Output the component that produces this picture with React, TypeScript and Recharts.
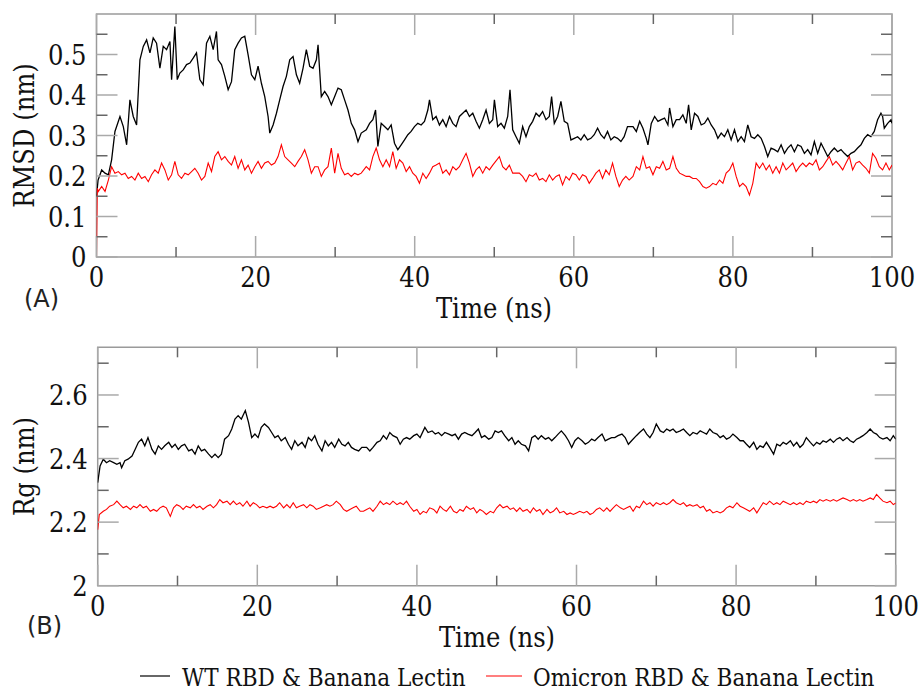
import React from 'react';
import { LineChart, Line, XAxis, YAxis, ReferenceArea } from 'recharts';

type Pt = [number, number];

// tick positions
const timeTicks = [0, 10, 20, 30, 40, 50, 60, 70, 80, 90, 100];
const rmsdTicks = [0, 0.05, 0.1, 0.15, 0.2, 0.25, 0.3, 0.35, 0.4, 0.45, 0.5, 0.55];
const rgTicks = [2, 2.1, 2.2, 2.3, 2.4, 2.5, 2.6, 2.7];

const seriesNames = ['WT RBD & Banana Lectin', 'Omicron RBD & Banana Lectin'];
const seriesColors = ['#000000', '#ff0000'];

// (A) RMSD, nm vs time, ns
const rmsdWt: Pt[] = [
  [0,0.15],[0.2,0.19],[0.65,0.215],[1.07,0.207],[1.49,0.203],[1.9,0.24],[2.32,0.31],[2.95,0.347],[3.37,0.322],[3.79,0.277],
  [4.2,0.388],[4.62,0.347],[5.04,0.326],[5.46,0.487],[5.88,0.52],[6.3,0.536],[6.72,0.504],[7.13,0.541],[7.55,0.528],[7.97,0.466],
  [8.39,0.52],[8.81,0.512],[9.23,0.532],[9.44,0.438],[9.85,0.569],[10.15,0.438],[10.48,0.454],[10.9,0.462],[11.32,0.475],[11.74,0.479],
  [12.15,0.491],[12.57,0.504],[12.99,0.438],[13.41,0.425],[13.83,0.528],[14.25,0.545],[14.67,0.512],[15.08,0.557],[15.29,0.487],[15.71,0.475],
  [16.13,0.446],[16.55,0.413],[16.97,0.433],[17.38,0.512],[17.8,0.528],[18.22,0.541],[18.64,0.545],[19.06,0.499],[19.48,0.45],[19.9,0.438],
  [20.31,0.471],[20.73,0.429],[21.15,0.396],[21.57,0.347],[21.78,0.306],[22.2,0.326],[22.62,0.355],[23.03,0.388],[23.45,0.421],[23.87,0.446],
  [24.29,0.487],[24.71,0.495],[25.13,0.45],[25.54,0.429],[25.96,0.466],[26.38,0.512],[26.8,0.471],[27.22,0.466],[27.64,0.487],[27.85,0.524],
  [28.26,0.396],[28.68,0.409],[29.1,0.396],[29.52,0.376],[29.94,0.396],[30.36,0.417],[30.77,0.413],[31.19,0.388],[31.61,0.363],[32.03,0.33],
  [32.45,0.314],[32.87,0.285],[33.28,0.306],[33.91,0.314],[34.33,0.33],[34.74,0.339],[35.08,0.363],[35.37,0.273],[35.79,0.33],[36.21,0.322],
  [36.63,0.314],[37.04,0.326],[37.46,0.281],[37.88,0.265],[38.3,0.277],[38.72,0.289],[39.14,0.302],[39.55,0.31],[39.97,0.322],[40.39,0.33],
  [40.81,0.326],[41.23,0.335],[41.65,0.363],[41.86,0.388],[42.27,0.339],[42.69,0.347],[43.11,0.326],[43.53,0.339],[43.95,0.322],[44.37,0.347],
  [44.79,0.33],[45.2,0.322],[45.62,0.347],[46.04,0.355],[46.46,0.363],[46.88,0.347],[47.3,0.355],[47.71,0.335],[48.13,0.318],[48.55,0.339],
  [48.97,0.363],[49.39,0.33],[49.81,0.339],[50.02,0.388],[50.43,0.322],[50.85,0.33],[51.27,0.318],[51.69,0.347],[51.98,0.413],[52.32,0.314],
  [52.74,0.297],[53.15,0.281],[53.57,0.322],[53.99,0.297],[54.41,0.322],[54.83,0.335],[55.25,0.355],[55.66,0.347],[56.08,0.359],[56.5,0.339],
  [56.92,0.347],[57.21,0.396],[57.55,0.33],[57.97,0.347],[58.38,0.384],[58.8,0.335],[59.22,0.33],[59.64,0.289],[60.06,0.293],[60.48,0.297],
  [60.89,0.289],[61.31,0.302],[61.73,0.289],[62.15,0.293],[62.57,0.302],[62.99,0.318],[63.4,0.302],[63.82,0.293],[64.24,0.31],[64.66,0.289],
  [65.08,0.297],[65.5,0.293],[65.92,0.285],[66.33,0.297],[66.75,0.322],[67.44,0.322],[67.86,0.31],[68.28,0.335],[68.69,0.318],[69.11,0.293],
  [69.32,0.277],[69.74,0.33],[70.16,0.347],[70.58,0.335],[70.99,0.339],[71.41,0.343],[71.83,0.326],[72.04,0.368],[72.46,0.322],[72.88,0.339],
  [73.3,0.339],[73.71,0.351],[74.13,0.33],[74.43,0.376],[74.76,0.314],[75.18,0.355],[75.6,0.347],[76.02,0.326],[76.43,0.33],[76.85,0.343],
  [77.27,0.326],[77.69,0.314],[78.11,0.293],[78.53,0.306],[78.94,0.297],[79.36,0.314],[79.78,0.289],[80.2,0.314],[80.62,0.285],[81.04,0.297],
  [81.45,0.285],[81.87,0.326],[82.29,0.297],[82.71,0.293],[83.13,0.302],[83.55,0.293],[83.97,0.273],[84.38,0.248],[84.8,0.269],[85.22,0.265],
  [85.64,0.26],[86.06,0.277],[86.48,0.256],[86.89,0.269],[87.31,0.277],[87.73,0.26],[88.15,0.277],[88.57,0.273],[88.99,0.256],[89.4,0.265],
  [89.82,0.252],[90.24,0.285],[90.66,0.256],[91.08,0.281],[91.5,0.265],[91.92,0.248],[92.33,0.26],[92.75,0.269],[93.17,0.26],[93.59,0.265],
  [94.01,0.256],[94.43,0.248],[94.84,0.256],[95.26,0.26],[95.68,0.269],[96.1,0.277],[96.52,0.293],[96.94,0.302],[97.35,0.297],[97.77,0.31],
  [98.19,0.339],[98.61,0.355],[98.82,0.347],[99.03,0.318],[99.45,0.33],[99.87,0.339],[100,0.33],
];

const rmsdOmicron: Pt[] = [
  [0,0],[0.1,0.17],[0.23,0.162],[0.65,0.174],[1.07,0.162],[1.49,0.19],[1.9,0.223],[2.32,0.207],[2.74,0.211],[3.16,0.203],
  [3.58,0.207],[3.99,0.194],[4.41,0.199],[4.83,0.19],[5.25,0.207],[5.67,0.194],[6.09,0.199],[6.51,0.186],[6.92,0.203],[7.34,0.215],
  [7.76,0.207],[8.18,0.232],[8.6,0.215],[9.02,0.19],[9.44,0.203],[9.85,0.236],[10.27,0.203],[10.69,0.194],[11.11,0.207],[11.53,0.203],
  [11.95,0.211],[12.36,0.219],[12.78,0.207],[13.2,0.19],[13.62,0.199],[14.04,0.232],[14.46,0.211],[14.87,0.248],[15.29,0.26],[15.71,0.24],
  [16.13,0.248],[16.55,0.236],[16.97,0.227],[17.38,0.248],[17.8,0.219],[18.22,0.24],[18.64,0.215],[19.06,0.227],[19.48,0.207],[19.9,0.223],
  [20.31,0.236],[20.73,0.219],[21.15,0.232],[21.57,0.236],[21.99,0.227],[22.41,0.232],[22.82,0.248],[23.24,0.277],[23.66,0.248],[24.08,0.24],
  [24.5,0.232],[24.92,0.223],[25.33,0.236],[25.75,0.248],[26.17,0.265],[26.59,0.24],[27.01,0.207],[27.43,0.223],[27.85,0.223],[28.26,0.199],
  [28.68,0.215],[29.1,0.223],[29.52,0.269],[29.94,0.207],[30.36,0.256],[30.77,0.219],[31.19,0.203],[31.61,0.207],[32.03,0.199],[32.45,0.207],
  [32.87,0.203],[33.28,0.207],[33.91,0.223],[34.33,0.215],[34.74,0.248],[35.16,0.269],[35.58,0.24],[36,0.223],[36.42,0.24],[36.84,0.223],
  [37.25,0.26],[37.67,0.219],[38.09,0.24],[38.51,0.232],[38.93,0.211],[39.35,0.223],[39.76,0.207],[40.18,0.199],[40.6,0.182],[41.02,0.207],
  [41.44,0.194],[41.86,0.207],[42.27,0.223],[42.69,0.227],[43.11,0.232],[43.53,0.207],[43.95,0.215],[44.37,0.203],[44.79,0.223],[45.2,0.215],
  [45.62,0.223],[46.04,0.24],[46.46,0.256],[46.88,0.232],[47.3,0.199],[47.71,0.215],[48.13,0.223],[48.55,0.207],[48.97,0.223],[49.39,0.215],
  [49.81,0.227],[50.64,0.248],[51.06,0.223],[51.48,0.215],[51.9,0.227],[52.32,0.207],[52.74,0.207],[53.15,0.207],[53.57,0.199],[53.99,0.186],
  [54.41,0.203],[54.83,0.199],[55.25,0.207],[55.66,0.19],[56.08,0.194],[56.5,0.186],[56.92,0.203],[57.34,0.19],[57.76,0.199],[58.17,0.203],
  [58.59,0.178],[59.01,0.199],[59.43,0.19],[59.85,0.207],[60.27,0.203],[60.69,0.19],[61.1,0.203],[61.52,0.199],[61.94,0.182],[62.36,0.194],
  [62.78,0.207],[63.2,0.215],[63.61,0.194],[64.03,0.215],[64.45,0.203],[64.87,0.232],[65.29,0.199],[65.71,0.174],[66.13,0.19],[66.54,0.199],
  [66.96,0.19],[67.44,0.199],[67.86,0.223],[68.28,0.215],[68.69,0.248],[69.11,0.219],[69.53,0.223],[69.95,0.203],[70.37,0.223],[70.79,0.219],
  [71.2,0.236],[71.62,0.215],[72.04,0.219],[72.46,0.248],[72.88,0.219],[73.3,0.207],[73.71,0.203],[74.13,0.199],[74.55,0.199],[74.97,0.194],
  [75.39,0.194],[75.81,0.186],[76.23,0.174],[76.64,0.17],[77.06,0.174],[77.48,0.182],[77.9,0.178],[78.32,0.19],[78.74,0.182],[79.15,0.207],
  [79.57,0.215],[79.99,0.232],[80.41,0.199],[80.83,0.174],[81.25,0.182],[81.66,0.174],[82.08,0.153],[82.5,0.182],[82.92,0.232],[83.34,0.219],
  [83.76,0.232],[84.18,0.215],[84.59,0.227],[85.01,0.207],[85.43,0.223],[85.85,0.207],[86.27,0.232],[86.69,0.215],[87.1,0.223],[87.52,0.232],
  [87.94,0.211],[88.36,0.223],[88.78,0.232],[89.2,0.223],[89.61,0.232],[90.03,0.227],[90.45,0.24],[90.87,0.215],[91.29,0.223],[91.71,0.236],
  [92.12,0.248],[92.54,0.227],[92.96,0.236],[93.38,0.227],[93.8,0.215],[94.22,0.232],[94.64,0.248],[95.05,0.215],[95.47,0.232],[95.89,0.236],
  [96.31,0.227],[96.73,0.219],[97.15,0.207],[97.56,0.256],[97.98,0.244],[98.4,0.223],[98.82,0.215],[99.24,0.232],[99.66,0.215],[100,0.227],
];

// (B) Rg, nm vs time, ns
const rgWt: Pt[] = [
  [0,2.324],[0.3,2.377],[0.7,2.398],[1.1,2.387],[1.5,2.393],[2,2.387],[2.4,2.382],[2.8,2.387],[3,2.371],[3.4,2.393],
  [3.8,2.398],[4.3,2.408],[4.7,2.429],[5.1,2.451],[5.5,2.461],[5.9,2.44],[6.3,2.466],[6.8,2.429],[7.2,2.414],[7.6,2.44],
  [8,2.429],[8.4,2.44],[8.9,2.451],[9.3,2.435],[9.7,2.445],[10.1,2.429],[10.5,2.44],[10.9,2.445],[11.4,2.424],[11.8,2.429],
  [12.2,2.414],[12.6,2.44],[13,2.424],[13.4,2.429],[13.9,2.414],[14.3,2.403],[14.7,2.414],[15.1,2.403],[15.5,2.414],[15.9,2.461],
  [16.4,2.472],[16.8,2.493],[17.2,2.524],[17.6,2.535],[18,2.524],[18.5,2.551],[18.9,2.514],[19.3,2.466],[19.7,2.477],[20.1,2.466],
  [20.5,2.498],[20.9,2.509],[21.4,2.498],[21.8,2.482],[22.2,2.466],[22.6,2.472],[23,2.456],[23.5,2.466],[23.9,2.445],[24.3,2.429],
  [24.7,2.456],[25.1,2.44],[25.6,2.451],[26,2.435],[26.4,2.466],[26.8,2.456],[27.2,2.472],[27.6,2.445],[28.1,2.424],[28.5,2.456],
  [28.9,2.44],[29.3,2.451],[29.7,2.435],[30.2,2.461],[30.6,2.445],[31,2.44],[31.4,2.451],[31.8,2.435],[32.2,2.429],[32.7,2.424],
  [33.1,2.435],[33.7,2.435],[34.1,2.424],[34.5,2.435],[35,2.451],[35.4,2.456],[35.8,2.472],[36.2,2.461],[36.6,2.482],[37,2.472],
  [37.5,2.466],[37.9,2.445],[38.3,2.461],[38.7,2.466],[39.1,2.461],[39.6,2.472],[40,2.477],[40.4,2.466],[41,2.498],[41.4,2.482],
  [41.9,2.487],[42.3,2.477],[42.7,2.482],[43.1,2.472],[43.5,2.482],[44,2.477],[44.4,2.472],[44.8,2.477],[45.2,2.461],[45.6,2.477],
  [46,2.482],[46.4,2.477],[46.9,2.472],[47.3,2.482],[47.7,2.493],[48.1,2.466],[48.5,2.472],[49,2.461],[49.4,2.466],[49.8,2.487],
  [50.2,2.482],[50.6,2.487],[51,2.472],[51.5,2.456],[51.9,2.466],[52.3,2.445],[52.7,2.456],[53.1,2.445],[53.6,2.44],[54,2.424],
  [54.4,2.466],[54.8,2.472],[55.2,2.461],[55.6,2.472],[56.1,2.461],[56.5,2.466],[56.9,2.456],[57.3,2.466],[57.7,2.477],[58.1,2.487],
  [58.6,2.472],[59,2.456],[59.4,2.435],[59.8,2.456],[60.2,2.466],[60.7,2.456],[61.1,2.445],[61.5,2.451],[61.9,2.461],[62.3,2.456],
  [62.7,2.466],[63.2,2.477],[63.6,2.456],[64,2.461],[64.4,2.466],[64.8,2.466],[65.2,2.472],[65.7,2.477],[66.1,2.466],[66.5,2.445],
  [66.9,2.456],[67.5,2.472],[67.9,2.482],[68.4,2.493],[68.8,2.477],[69.2,2.466],[69.6,2.482],[70,2.509],[70.5,2.487],[70.9,2.482],
  [71.3,2.493],[71.7,2.487],[72.1,2.493],[72.5,2.482],[73,2.487],[73.4,2.493],[73.8,2.482],[74.2,2.472],[74.6,2.482],[75.1,2.477],
  [75.5,2.487],[75.9,2.482],[76.3,2.477],[76.7,2.493],[77.1,2.482],[77.6,2.477],[78,2.466],[78.4,2.472],[78.8,2.461],[79.2,2.466],
  [79.6,2.477],[80.1,2.466],[80.5,2.456],[80.9,2.456],[81.3,2.445],[81.7,2.435],[82.2,2.451],[82.6,2.429],[83,2.44],[83.4,2.435],
  [83.8,2.451],[84.2,2.435],[84.7,2.414],[85.1,2.445],[85.5,2.44],[85.9,2.451],[86.3,2.445],[86.8,2.456],[87.2,2.44],[87.6,2.451],
  [88,2.435],[88.4,2.445],[88.8,2.466],[89.3,2.451],[89.7,2.44],[90.1,2.451],[90.5,2.445],[90.9,2.456],[91.3,2.451],[91.8,2.461],
  [92.2,2.451],[92.6,2.461],[93,2.466],[93.4,2.456],[93.9,2.466],[94.3,2.456],[94.7,2.451],[95.1,2.461],[95.5,2.466],[95.9,2.472],
  [96.4,2.482],[96.8,2.493],[97.2,2.482],[97.6,2.477],[98,2.466],[98.4,2.461],[98.9,2.466],[99.3,2.456],[99.7,2.472],[100,2.461],
];

const rgOmicron: Pt[] = [
  [0,2.176],[0.2,2.224],[0.7,2.234],[1.1,2.24],[1.5,2.25],[2,2.255],[2.4,2.266],[2.8,2.255],[3.2,2.245],[3.6,2.25],
  [4.1,2.24],[4.5,2.25],[4.9,2.245],[5.3,2.255],[5.7,2.245],[6.1,2.25],[6.6,2.234],[7,2.24],[7.4,2.234],[7.8,2.245],
  [8.2,2.25],[8.6,2.245],[9.1,2.218],[9.5,2.245],[9.9,2.255],[10.3,2.25],[10.7,2.24],[11.1,2.25],[11.6,2.245],[12,2.255],
  [12.4,2.245],[12.8,2.25],[13.2,2.24],[13.7,2.25],[14.1,2.255],[14.5,2.245],[14.9,2.255],[15.3,2.271],[15.7,2.261],[16.2,2.266],
  [16.6,2.255],[17,2.266],[17.4,2.255],[17.8,2.261],[18.2,2.25],[18.7,2.266],[19.1,2.25],[19.5,2.261],[19.9,2.255],[20.3,2.245],
  [20.7,2.25],[21.2,2.245],[21.6,2.25],[22,2.245],[22.4,2.25],[22.8,2.261],[23.3,2.245],[23.7,2.255],[24.1,2.245],[24.5,2.261],
  [24.9,2.245],[25.3,2.25],[25.8,2.255],[26.2,2.245],[26.6,2.255],[27,2.25],[27.4,2.24],[27.9,2.245],[28.3,2.25],[28.7,2.255],
  [29.1,2.25],[29.5,2.255],[29.9,2.266],[30.4,2.255],[30.8,2.24],[31.2,2.234],[31.6,2.24],[32,2.245],[32.4,2.25],[32.9,2.234],
  [33.3,2.234],[33.7,2.24],[34.1,2.245],[34.5,2.234],[35,2.25],[35.4,2.266],[35.8,2.255],[36.2,2.261],[36.6,2.255],[37,2.266],
  [37.5,2.255],[37.9,2.261],[38.3,2.255],[38.7,2.266],[39.1,2.25],[39.6,2.234],[40,2.24],[40.4,2.224],[40.8,2.234],[41.2,2.229],
  [41.6,2.245],[42.1,2.24],[42.5,2.229],[42.9,2.25],[43.3,2.24],[43.7,2.234],[44.2,2.25],[44.6,2.234],[45,2.229],[45.4,2.24],
  [45.8,2.234],[46.2,2.25],[46.7,2.24],[47.1,2.245],[47.5,2.229],[47.9,2.24],[48.3,2.234],[48.7,2.224],[49.2,2.234],[49.6,2.229],
  [50,2.245],[50.4,2.255],[50.8,2.245],[51.3,2.25],[51.7,2.24],[52.1,2.245],[52.5,2.234],[52.9,2.245],[53.3,2.234],[53.8,2.24],
  [54.2,2.229],[54.6,2.245],[55,2.234],[55.4,2.24],[55.8,2.224],[56.3,2.24],[56.7,2.229],[57.1,2.234],[57.5,2.245],[57.9,2.229],
  [58.4,2.234],[58.8,2.224],[59.2,2.229],[59.6,2.224],[60,2.229],[60.4,2.234],[60.9,2.229],[61.3,2.234],[61.7,2.224],[62.1,2.229],
  [62.5,2.24],[62.9,2.245],[63.4,2.234],[63.8,2.245],[64.2,2.234],[64.6,2.245],[65,2.255],[65.5,2.245],[65.9,2.24],[66.3,2.245],
  [66.7,2.25],[67.1,2.234],[67.5,2.25],[67.9,2.245],[68.4,2.266],[68.8,2.255],[69.2,2.261],[69.6,2.25],[70,2.261],[70.5,2.255],
  [70.9,2.261],[71.3,2.255],[71.7,2.261],[72.1,2.271],[72.5,2.261],[73,2.255],[73.4,2.261],[73.8,2.25],[74.2,2.255],[74.6,2.25],
  [75.1,2.255],[75.5,2.245],[75.9,2.25],[76.3,2.234],[76.7,2.24],[77.1,2.229],[77.6,2.234],[78,2.229],[78.4,2.234],[78.8,2.245],
  [79.2,2.25],[79.6,2.245],[80.1,2.261],[80.5,2.25],[80.9,2.245],[81.3,2.24],[81.7,2.234],[82.2,2.245],[82.6,2.229],[83,2.245],
  [83.4,2.261],[83.8,2.255],[84.2,2.266],[84.7,2.255],[85.1,2.261],[85.5,2.255],[85.9,2.266],[86.3,2.261],[86.8,2.255],[87.2,2.261],
  [87.6,2.255],[88,2.261],[88.4,2.255],[88.8,2.266],[89.3,2.261],[89.7,2.266],[90.1,2.261],[90.5,2.271],[90.9,2.266],[91.3,2.271],
  [91.8,2.266],[92.2,2.271],[92.6,2.266],[93,2.271],[93.4,2.276],[93.9,2.271],[94.3,2.266],[94.7,2.271],[95.1,2.266],[95.5,2.271],
  [95.9,2.266],[96.4,2.271],[96.8,2.276],[97.2,2.271],[97.6,2.287],[98,2.276],[98.4,2.266],[98.9,2.261],[99.3,2.266],[99.7,2.255],[100,2.26],
];

const toRows = (pts: Pt[]) => pts.map(([t, v]) => ({ t, v }));

const serifText = { fontFamily: 'DejaVu Serif', fontStretch: 'condensed' as const };
const sansText = { fontFamily: 'DejaVu Sans' };
const FRAME = '#9a9a9a';

// ticks drawn inside the box on both opposite sides, like xmgrace
const TimeTick = (props: any) => {
  const { x, y, payload, plotH } = props;
  const v = payload.value;
  const major = v % 20 === 0;
  const len = major ? 21 : 10;
  const col = major ? '#aaaaaa' : '#666666';
  return (
    <g>
      <line x1={x} y1={y} x2={x} y2={y - len} stroke={col} strokeWidth={1.5} />
      <line x1={x} y1={y - plotH} x2={x} y2={y - plotH + len} stroke={col} strokeWidth={1.5} />
      {major && (
        <text x={x} y={y + 30} textAnchor="middle" style={serifText} fontSize={27} fill="#111">
          {v}
        </text>
      )}
    </g>
  );
};

const ValueTick = (props: any) => {
  const { x, y, payload, plotW, isMajor, fmt } = props;
  const v = payload.value;
  const major = isMajor(v);
  const len = major ? 21 : 11;
  const col = major ? '#aaaaaa' : '#666666';
  return (
    <g>
      <line x1={x} y1={y} x2={x + len} y2={y} stroke={col} strokeWidth={1.5} />
      <line x1={x + plotW} y1={y} x2={x + plotW - len} y2={y} stroke={col} strokeWidth={1.5} />
      {major && (
        <text x={x - 10} y={y + 10} textAnchor="end" style={serifText} fontSize={27} fill="#111">
          {fmt(v)}
        </text>
      )}
    </g>
  );
};

const fmtRmsd = (v: number) => (v === 0 ? '0' : v.toFixed(1));
const fmtRg = (v: number) => (v === 2 ? '2' : v.toFixed(1));

const App = () => {
  return (
    <div style={{ position: 'absolute', left: 0, top: 0, width: 919, height: 695, background: '#fff' }}>
      {/* (A) RMSD */}
      <div style={{ position: 'absolute', left: 0, top: 0 }}>
        <LineChart width={919} height={330} margin={{ top: 14, right: 27, bottom: 33, left: 36.5 }}>
          <XAxis
            dataKey="t"
            type="number"
            domain={[0, 100]}
            ticks={timeTicks}
            interval={0}
            allowDataOverflow
            axisLine={false}
            tickLine={false}
            tickSize={0}
            tickMargin={0}
            height={40}
            tick={(p: any) => <TimeTick {...p} plotH={243} />}
          />
          <YAxis
            type="number"
            domain={[0, 0.6]}
            ticks={rmsdTicks}
            interval={0}
            allowDataOverflow
            axisLine={false}
            tickLine={false}
            tickSize={0}
            tickMargin={0}
            width={60}
            tick={(p: any) => (
              <ValueTick {...p} plotW={795.5} fmt={fmtRmsd} isMajor={(v: number) => Math.round(v * 100) % 10 === 0} />
            )}
          />
          <ReferenceArea x1={0} x2={100} y1={0} y2={0.6} fill="none" stroke={FRAME} strokeWidth={1.5} ifOverflow="visible" />
          <Line data={toRows(rmsdWt)} dataKey="v" type="linear" stroke={seriesColors[0]} strokeWidth={1.3} dot={false} isAnimationActive={false} />
          <Line data={toRows(rmsdOmicron)} dataKey="v" type="linear" stroke={seriesColors[1]} strokeWidth={1.1} dot={false} isAnimationActive={false} />
        </LineChart>
      </div>

      {/* (B) Rg */}
      <div style={{ position: 'absolute', left: 0, top: 330 }}>
        <LineChart width={919} height={330} margin={{ top: 17.3, right: 23.3, bottom: 34.3, left: 37.7 }}>
          <XAxis
            dataKey="t"
            type="number"
            domain={[0, 100]}
            ticks={timeTicks}
            interval={0}
            allowDataOverflow
            axisLine={false}
            tickLine={false}
            tickSize={0}
            tickMargin={0}
            height={40}
            tick={(p: any) => <TimeTick {...p} plotH={238.4} />}
          />
          <YAxis
            type="number"
            domain={[2, 2.75]}
            ticks={rgTicks}
            interval={0}
            allowDataOverflow
            axisLine={false}
            tickLine={false}
            tickSize={0}
            tickMargin={0}
            width={60}
            tick={(p: any) => (
              <ValueTick {...p} plotW={798} fmt={fmtRg} isMajor={(v: number) => Math.round(v * 10) % 2 === 0} />
            )}
          />
          <ReferenceArea x1={0} x2={100} y1={2} y2={2.75} fill="none" stroke={FRAME} strokeWidth={1.5} ifOverflow="visible" />
          <Line data={toRows(rgWt)} dataKey="v" type="linear" stroke={seriesColors[0]} strokeWidth={1.3} dot={false} isAnimationActive={false} />
          <Line data={toRows(rgOmicron)} dataKey="v" type="linear" stroke={seriesColors[1]} strokeWidth={1.1} dot={false} isAnimationActive={false} />
        </LineChart>
      </div>

      {/* titles, panel letters and legend */}
      <svg width={919} height={695} style={{ position: 'absolute', left: 0, top: 0, pointerEvents: 'none' }}>
        <text x={494} y={318} textAnchor="middle" style={serifText} fontSize={27} fill="#111">Time (ns)</text>
        <text x={497} y={647} textAnchor="middle" style={serifText} fontSize={27} fill="#111">Time (ns)</text>
        <text x={34} y={135.5} textAnchor="middle" style={serifText} fontSize={27} fill="#111" transform="rotate(-90 34 135.5)">RMSD (nm)</text>
        <text x={34} y={466.5} textAnchor="middle" style={serifText} fontSize={27} fill="#111" transform="rotate(-90 34 466.5)">Rg (nm)</text>
        <text x={24} y={307} style={sansText} fontSize={24} fill="#222">(A)</text>
        <text x={27} y={634} style={sansText} fontSize={24} fill="#222">(B)</text>

        <line x1={140} y1={676} x2={170} y2={676} stroke={seriesColors[0]} strokeWidth={1.2} />
        <text x={182} y={686} style={serifText} fontSize={24} fill="#111">{seriesNames[0]}</text>
        <line x1={486} y1={676} x2={522} y2={676} stroke={seriesColors[1]} strokeWidth={1.2} />
        <text x={533} y={686} style={serifText} fontSize={24} fill="#111">{seriesNames[1]}</text>
      </svg>
    </div>
  );
};

export default App;
